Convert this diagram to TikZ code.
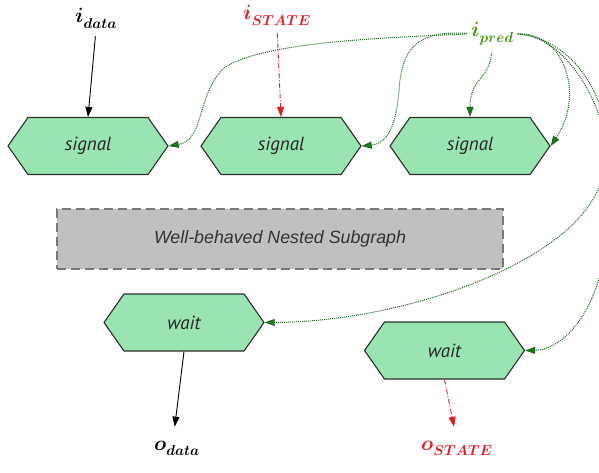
\documentclass[tikz,border=0pt]{standalone}
\usepackage{fontspec}
\usetikzlibrary{shapes.symbols,arrows.meta}
\newfontfamily\hexfont{PT Sans}
\newfontfamily\boxfont{Liberation Sans}
\definecolor{hexfill}{RGB}{154,228,178}
\definecolor{hexdraw}{RGB}{40,48,40}
\definecolor{lblred}{RGB}{225,30,40}
\definecolor{lblgreen}{RGB}{70,150,20}
\definecolor{edgegreen}{RGB}{30,100,30}
\definecolor{tipgreen}{RGB}{20,130,20}
\definecolor{boxfill}{RGB}{192,192,192}
\definecolor{boxdraw}{RGB}{120,120,120}
\begin{document}
\begin{tikzpicture}[x=1pt,y=-1pt,
  hexnode/.style={shape=signal, signal to=east and west, signal pointer angle=110,
    minimum width=160pt, minimum height=57pt, inner sep=0pt, fill=hexfill, draw=hexdraw,
    line width=1.1pt, font=\hexfont\itshape\fontsize{19}{22}\selectfont, text=black!85},
  subbox/.style={rectangle, minimum width=446pt, minimum height=60pt, fill=boxfill,
    draw=boxdraw, line width=2pt, dash pattern=on 9pt off 5pt,
    font=\boxfont\itshape\fontsize{17.8}{21}\selectfont, text=black!80},
  lbl/.style={inner sep=0pt, font=\fontsize{20}{24}\selectfont\boldmath, anchor=base west},
  dataedge/.style={-{Triangle[length=10pt,width=7pt]}, draw=black, line width=0.9pt},
  stateedge/.style={-{Triangle[length=10pt,width=7pt]}, draw=lblred, line width=0.9pt,
    dash pattern=on 5pt off 2pt on 1pt off 2pt},
  prededge/.style={-{Triangle[length=10pt,width=7pt,fill=tipgreen]}, draw=edgegreen,
    line width=1pt, dash pattern=on 1pt off 1pt}]
\clip (0,0) rectangle (599,473);
\fill[white] (0,0) rectangle (599,473);
% nodes
\node[hexnode] (sig1) at (88,146) {signal};
\node[hexnode] (sig2) at (281,146) {signal};
\node[hexnode] (sig3) at (470,146) {signal};
\node[hexnode] (wait1) at (184,322.5) {wait};
\node[hexnode] (wait2) at (444.5,350.5) {wait};
\node[subbox] (sub) at (280,239) {Well-behaved Nested Subgraph};
% labels
\node[lbl] (idata) at (75,23) {$i_{\raisebox{-2pt}{$\scriptstyle data$}}$};
\node[lbl,text=lblred] (istate) at (243,20) {$i_{\raisebox{-2pt}{$\scriptstyle STATE$}}$};
\node[lbl,text=lblgreen] (ipred) at (471,37) {$i_{\raisebox{-2pt}{$\scriptstyle pred$}}$};
\node[lbl] (odata) at (154,450) {$o_{\raisebox{-2pt}{$\scriptstyle data$}}$};
\node[lbl,text=lblred] (ostate) at (421,450) {$o_{\raisebox{-2pt}{$\scriptstyle STATE$}}$};
% edges
\draw[dataedge, shorten <=8pt] (idata.south) -- (sig1.north);
\draw[stateedge, shorten <=8pt] (istate.south) -- (sig2.north);
\draw[dataedge, shorten >=14pt] (wait1.south) -- ([xshift=-4pt]odata.north);
\draw[stateedge, shorten >=14pt] (wait2.south) -- (ostate.north);
\draw[prededge, shorten <=6pt] (ipred.west) .. controls (380,38) and (262,42) .. (224,68)
  .. controls (196,95) and (205,140) .. (sig1.east);
\draw[prededge, shorten <=4pt] (ipred.west) .. controls (415,30) and (402,50) .. (399,90)
  .. controls (396,130) and (385,144) .. (sig2.east);
\draw[prededge, shorten <=8pt] (ipred.south) .. controls (489,80) and (470,78) .. (sig3.north);
\draw[prededge, shorten <=4pt] (ipred.east) .. controls (565,33) and (585,95) .. (sig3.east);
\draw[prededge, shorten <=4pt] (ipred.east) .. controls (580,38) and (625,120) .. (600,185)
  .. controls (570,265) and (400,322) .. (wait1.east);
\draw[prededge, shorten <=4pt] (ipred.east) .. controls (590,38) and (640,180) .. (600,275)
  .. controls (588,320) and (560,350) .. (wait2.east);
\end{tikzpicture}
\end{document}
